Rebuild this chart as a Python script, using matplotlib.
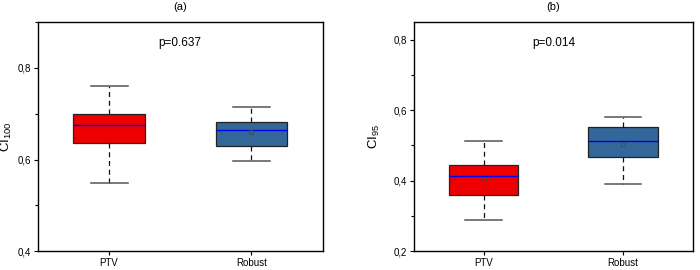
import matplotlib.pyplot as plt
from matplotlib.ticker import MultipleLocator, FuncFormatter

plt.rcParams['font.family'] = ['Liberation Sans', 'DejaVu Sans']
plt.rcParams['mathtext.fontset'] = 'custom'
plt.rcParams['mathtext.rm'] = 'Liberation Sans'
plt.rcParams['mathtext.it'] = 'Liberation Sans'

# Datos
grupos = ['PTV', 'Robust']
colores = ['#EE0000', '#336699']

# CI100 (panel a): whislo, q1, mediana, media, q3, whishi
ci100_ptv = [0.548, 0.636, 0.675, 0.666, 0.699, 0.760]
ci100_rob = [0.596, 0.630, 0.665, 0.659, 0.681, 0.715]
# CI95 (panel b)
ci95_ptv = [0.288, 0.360, 0.413, 0.404, 0.444, 0.512]
ci95_rob = [0.390, 0.467, 0.512, 0.505, 0.551, 0.582]

p_valores = ['p=0.637', 'p=0.014']
etiquetas_y = ['CI$_{\\mathrm{100}}$', 'CI$_{\\mathrm{95}}$']
titulos = ['(a)', '(b)']
limites = [(0.4, 0.9), (0.2, 0.85)]
pos_ylabel = [-0.082, -0.115]


def a_stats(v, nombre):
    return dict(label=nombre, whislo=v[0], q1=v[1], med=v[2], mean=v[3], q3=v[4], whishi=v[5], fliers=[])


fig = plt.figure(figsize=(7, 2.7), dpi=100)
ax1 = fig.add_axes([0.054, 0.070, 0.407, 0.848])
ax2 = fig.add_axes([0.591, 0.070, 0.399, 0.848])

datos = [[ci100_ptv, ci100_rob], [ci95_ptv, ci95_rob]]
coma = FuncFormatter(lambda v, pos: f'{v:.1f}'.replace('.', ','))

for i, ax in enumerate([ax1, ax2]):
    stats = [a_stats(d, g) for d, g in zip(datos[i], grupos)]
    bp = ax.bxp(stats, positions=[1, 2], widths=0.5, patch_artist=True, showmeans=True,
                capwidths=0.26,
                boxprops=dict(edgecolor='#222222', linewidth=0.9),
                medianprops=dict(color='#0000EE', linewidth=1.0),
                whiskerprops=dict(color='#111111', linestyle=(0, (4, 3)), linewidth=0.9),
                capprops=dict(color='#555555', linewidth=1.1),
                meanprops=dict(marker='s', markersize=2.5, markerfacecolor='none',
                               markeredgecolor='#444444', markeredgewidth=0.5))
    for caja, c in zip(bp['boxes'], colores):
        caja.set_facecolor(c)
    ax.set_xlim(0.5, 2.5)
    ax.set_ylim(*limites[i])
    ax.yaxis.set_major_locator(MultipleLocator(0.2))
    ax.yaxis.set_minor_locator(MultipleLocator(0.1))
    ax.yaxis.set_major_formatter(coma)
    ax.tick_params(labelsize=7, length=3, width=0.8, pad=2)
    ax.tick_params(which='minor', length=2, width=0.8)
    ax.set_ylabel(etiquetas_y[i], fontsize=9.5)
    ax.yaxis.set_label_coords(pos_ylabel[i], 0.5)
    ax.set_title(titulos[i], fontsize=8, pad=9)
    ax.text(0.5, 0.91, p_valores[i], transform=ax.transAxes, ha='center', va='center', fontsize=8.5)
    for s in ax.spines.values():
        s.set_linewidth(1.0)

fig.savefig('out.png', dpi=100)
